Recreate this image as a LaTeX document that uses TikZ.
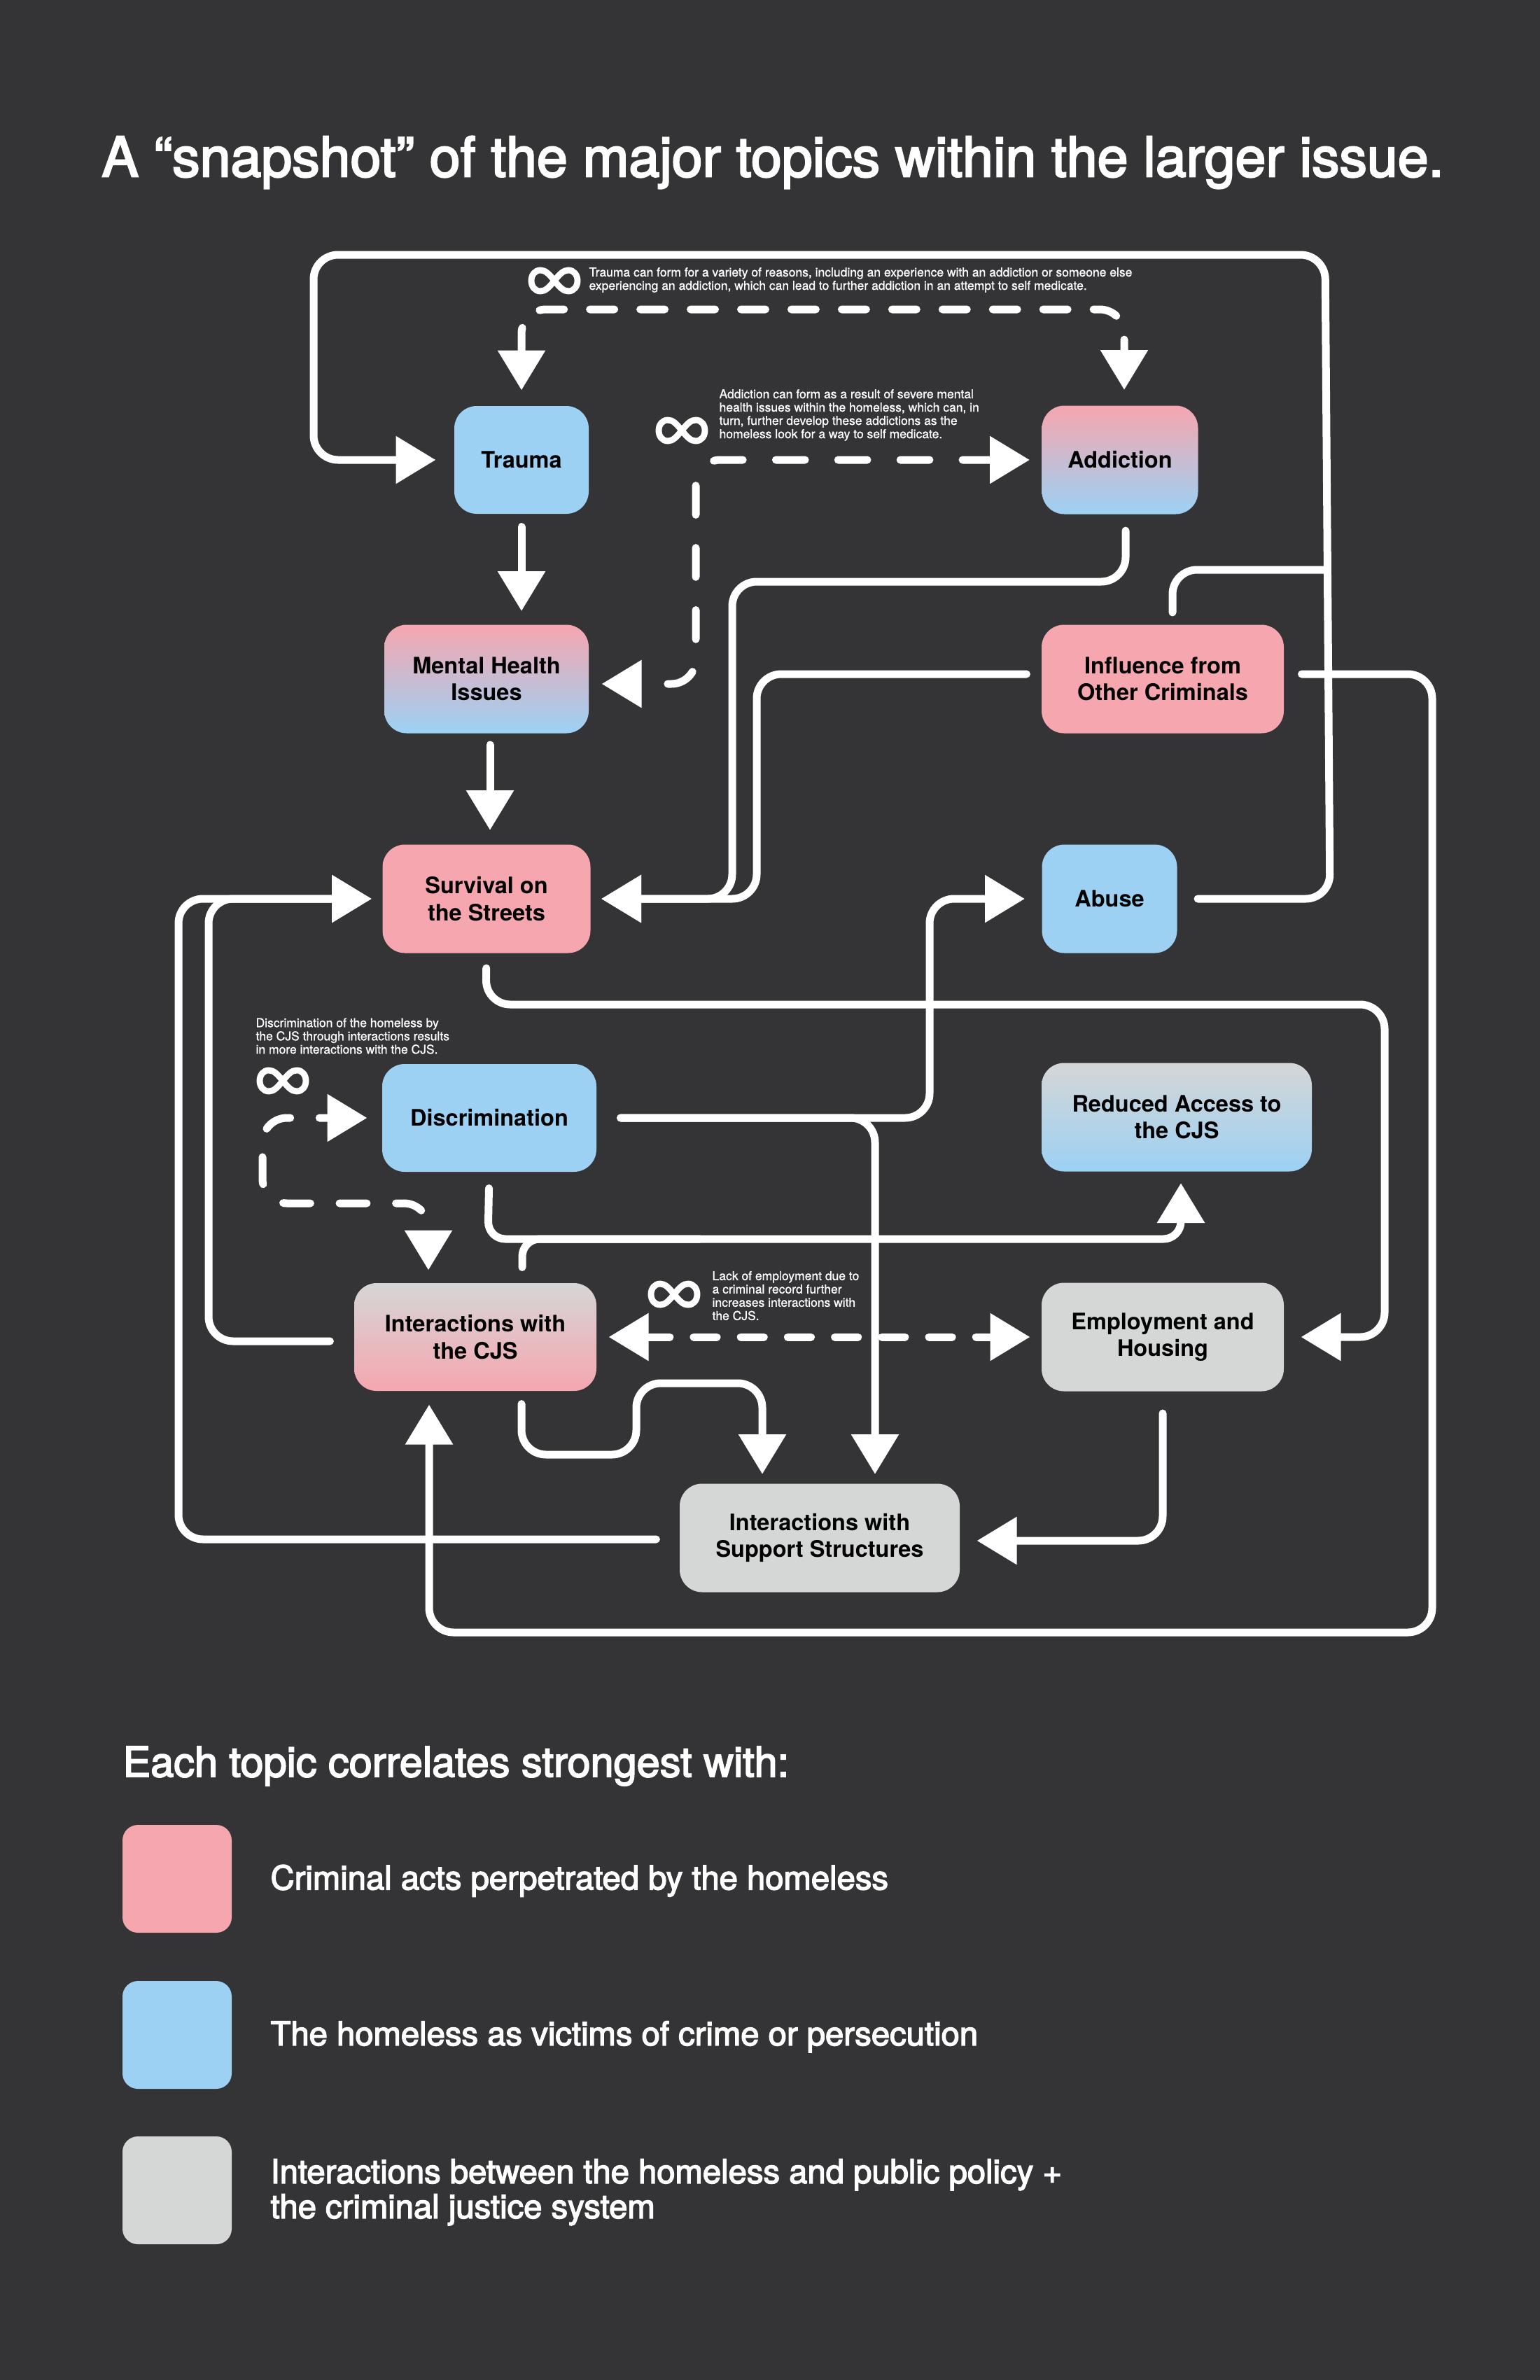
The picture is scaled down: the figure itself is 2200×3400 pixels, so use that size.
\documentclass[tikz,border=0pt]{standalone}
\usepackage{fontspec}
\setmainfont{TeX Gyre Heros}
\newfontfamily\titlefont[FakeBold=3]{TeX Gyre Heros}
\newfontfamily\notefont[FakeBold=1]{TeX Gyre Heros}
\usetikzlibrary{arrows.meta,shadings}

\definecolor{bgdark}{HTML}{343436}
\definecolor{topicpink}{HTML}{F6A6AF}
\definecolor{topicblue}{HTML}{9CD1F4}
\definecolor{topicgrey}{HTML}{D5D6D6}

\def\u{0.36pt}

\tikzset{
    topic/.style={rounded corners=32*\u, align=center, text=black, font=\fontsize{11.7}{13.8}\selectfont\bfseries},
    note/.style={anchor=west, align=left, inner sep=0pt, text=white, font=\notefont\fontsize{6.3}{6.84}\selectfont},
    legendtext/.style={anchor=west, align=left, inner sep=0pt, text=white, font=\titlefont\fontsize{17}{18}\selectfont},
    >={Triangle[length=20.5pt,width=23.6pt]},
    link/.style={draw=white, line width=3.96pt, line cap=round, rounded corners=35*\u},
    flow/.style={link, ->},
    loopflow/.style={link, <->, dash pattern=on 15pt off 17pt},
    loopmark/.pic={
        \draw[white, line width=3.2pt] (0,0) .. controls (8,-10) and (13,-15) .. (20,-15) .. controls (28,-15) and (33,-8) .. (33,0) .. controls (33,8) and (28,15) .. (20,15) .. controls (13,15) and (8,10) .. (0,0) .. controls (-8,-10) and (-13,-15) .. (-20,-15) .. controls (-28,-15) and (-33,-8) .. (-33,0) .. controls (-33,8) and (-28,15) .. (-20,15) .. controls (-13,15) and (-8,10) .. (0,0) -- cycle;
    }
}

\begin{document}
\begin{tikzpicture}[x=0.36pt,y=-0.36pt]
    \useasboundingbox[fill=bgdark] (0,0) rectangle (2200,3400);

    % Title
    \node[text=white, font=\titlefont\fontsize{28.4}{32}\selectfont] (title) at (1104,232) {A “snapshot” of the major topics within the larger issue.};

    % Topics
    \node[topic, fill=topicblue, minimum width=192*\u, minimum height=154*\u] (Trauma) at (745,657) {Trauma};
    \node[topic, top color=topicpink, bottom color=topicblue, minimum width=223*\u, minimum height=155*\u] (Addiction) at (1600,657) {Addiction};
    \node[topic, top color=topicpink, bottom color=topicblue, minimum width=292*\u, minimum height=155*\u] (MentalHealth) at (695,970) {Mental Health\\Issues};
    \node[topic, fill=topicpink, minimum width=346*\u, minimum height=155*\u] (Influence) at (1661,970) {Influence from\\Other Criminals};
    \node[topic, fill=topicpink, minimum width=297*\u, minimum height=155*\u] (Survival) at (695,1284) {Survival on\\the Streets};
    \node[topic, fill=topicblue, minimum width=193*\u, minimum height=155*\u] (Abuse) at (1585,1284) {Abuse};
    \node[topic, fill=topicblue, minimum width=306*\u, minimum height=154*\u] (Discrimination) at (699,1597) {Discrimination};
    \node[topic, top color=topicgrey, bottom color=topicblue, minimum width=386*\u, minimum height=155*\u] (ReducedAccess) at (1681,1596) {Reduced Access to\\the CJS};
    \node[topic, top color=topicgrey, bottom color=topicpink, minimum width=346*\u, minimum height=154*\u] (InteractionsCJS) at (679,1910) {Interactions with\\the CJS};
    \node[topic, fill=topicgrey, minimum width=346*\u, minimum height=155*\u] (Employment) at (1661,1910) {Employment and\\Housing};
    \node[topic, fill=topicgrey, minimum width=400*\u, minimum height=155*\u] (Support) at (1171,2197) {Interactions with\\Support Structures};

    % Notes beside the loops
    \node[note] (noteTrauma) at (841,400) {Trauma can form for a variety of reasons, including an experience with an addiction or someone else\\experiencing an addiction, which can lead to further addiction in an attempt to self medicate.};
    \node[note] (noteAddiction) at (1027,593) {Addiction can form as a result of severe mental\\health issues within the homeless, which can, in\\turn, further develop these addictions as the\\homeless look for a way to self medicate.};
    \node[note] (noteDiscrimination) at (365,1480) {Discrimination of the homeless by\\the CJS through interactions results\\in more interactions with the CJS.};
    \node[note] (noteEmployment) at (1017,1851) {Lack of employment due to\\a criminal record further\\increases interactions with\\the CJS.};
    \pic at (792,401) {loopmark};
    \pic at (974,615) {loopmark};
    \pic at (404,1544) {loopmark};
    \pic at (963,1849) {loopmark};

    % Straight down the left side
    \draw[flow, shorten <=18*\u, shorten >=19*\u] (Trauma.south) -- (Trauma.south |- MentalHealth.north);
    \draw[flow, shorten <=16*\u, shorten >=20*\u] (700,0 |- MentalHealth.south) -- (700,0 |- Survival.north);

    % Abuse and Influence back round to Trauma
    \draw[flow, shorten <=29*\u, shorten >=26*\u] (Abuse.east) -- (1900,1284) -- (1893,364) -- (448,364) -- (448,657) -- (Trauma.west);
    \coordinate (frameJoin) at (1893,814);
    \draw[link, shorten <=17*\u] (1675,0 |- Influence.north) -- (1675,814) -- (frameJoin);

    % Into Survival from the right
    \draw[flow, shorten <=23*\u, shorten >=15*\u] (1608,0 |- Addiction.south) -- (1608,831) -- (1046,831) -- (1046,1284) -- (Survival.east);
    \draw[flow, shorten <=21*\u, shorten >=15*\u] (Influence.west |- 0,963) -- (1081,963) -- (1081,1284) -- (Survival.east);

    % Into Survival from the left
    \draw[flow, shorten <=33*\u, shorten >=15*\u] (Support.west |- 0,2199) -- (255,2199) -- (255,1284) -- (Survival.west);
    \draw[flow, shorten <=34*\u, shorten >=15*\u] (InteractionsCJS.west |- 0,1916) -- (298,1916) -- (298,1284) -- (Survival.west);

    % Out of Survival
    \draw[flow, shorten <=21*\u, shorten >=24*\u] (Survival.south) -- (694,1435) -- (1978,1435) -- (1978,1910) -- (Employment.east);

    % Out of Discrimination
    \draw[flow, shorten <=34*\u, shorten >=24*\u] (Discrimination.east) -- (1328,1597) -- (1328,1284) -- (Abuse.west);
    \draw[flow, shorten <=34*\u, shorten >=13*\u] (Discrimination.east) -- (1250,1597) -- (1250,0 |- Support.north);
    \draw[flow, rounded corners=25*\u, shorten <=23*\u, shorten >=16*\u] (Discrimination.south) -- (697,1770) -- (1687,1770) -- (1687,0 |- ReducedAccess.south);
    \coordinate (accessJoin) at (1000,1770);
    \draw[link, rounded corners=25*\u, shorten <=22*\u] (746,0 |- InteractionsCJS.north) -- (746,1770) -- (accessJoin);

    % Into Interactions with the CJS and Support Structures
    \draw[flow, shorten <=18*\u, shorten >=13*\u] (745,0 |- InteractionsCJS.south) -- (745,2078) -- (909,2078) -- (909,1976) -- (1089,1976) -- (1089,0 |- Support.north);
    \draw[flow, shorten <=31*\u, shorten >=24*\u] (Employment.south) -- (1661,2201) -- (Support.east |- 0,2201);
    \draw[flow, shorten <=25*\u, shorten >=19*\u] (Influence.east |- 0,963) -- (2046,963) -- (2046,2332) -- (613,2332) -- (613,0 |- InteractionsCJS.south);

    % Dashed loops
    \draw[loopflow, dash pattern=on 12.6pt off 13.3pt, shorten <=22*\u, shorten >=22*\u] (Trauma.north) -- (745,442) -- (1606,442) -- (1606,0 |- Addiction.north);
    \draw[loopflow, shorten <=17*\u, shorten >=18*\u] (Addiction.west) -- (994,657) -- (994,977) -- (MentalHealth.east |- 0,977);
    \draw[loopflow, dash pattern=on 14pt off 15pt, dash phase=9pt, shorten <=21*\u, shorten >=18*\u] (Discrimination.west) -- (375,1597) -- (375,1719) -- (612,1719) -- (612,0 |- InteractionsCJS.north);
    \draw[loopflow, dash pattern=on 11.9pt off 12.3pt, shorten <=17*\u, shorten >=16*\u] (InteractionsCJS.east) -- (Employment.west);

    % Legend
    \node[legendtext, font=\titlefont\fontsize{21.4}{24}\selectfont] (legendHead) at (175,2523) {Each topic correlates strongest with:};
    \foreach \name/\col/\y/\txt in {legendPink/topicpink/2684/Criminal acts perpetrated by the homeless,
                                    legendBlue/topicblue/2907/The homeless as victims of crime or persecution,
                                    legendGrey/topicgrey/3129/{Interactions between the homeless and public policy +\\the criminal justice system}} {
        \node[fill=\col, rounded corners=22*\u, minimum width=156*\u, minimum height=154*\u] (\name) at (253,\y) {};
        \node[legendtext, yshift=-1pt] (\name Text) at (386,\y) {\txt};
    }
\end{tikzpicture}
\end{document}
